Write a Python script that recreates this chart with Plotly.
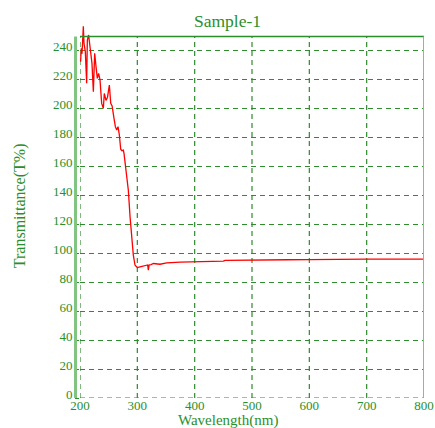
import plotly.graph_objects as go

# Wavelength (nm) and transmittance (T%)
wl_noisy = [201, 202.3, 203.5, 205.8, 207, 209.3, 211.6, 212.8, 215, 217.5,
            220.9, 223.3, 225.6, 228, 230.2, 232.5, 234.9, 237.8, 240.7, 242.4,
            245.3, 248, 251.2, 253.6, 256, 259.3, 261.7, 264, 266.3, 268.6]
t_noisy = [232.5, 241.8, 238, 257, 245, 239.5, 217.6, 247.5, 251, 243,
           231.4, 211.8, 238.3, 229, 221, 224.5, 220, 203.7, 200.3, 210.6,
           205.8, 208, 216.4, 203.7, 202, 193.4, 187.6, 185.3, 187.6, 182]
wl_edge = [271, 273, 275.6, 276.8, 278.5, 281.5, 284.3, 287.3, 290.2, 293, 296, 298, 300]
t_edge = [172, 171, 171.4, 169, 162.2, 155.3, 143.7, 125.3, 109.1, 98.8, 91.8, 90.5, 90.2]
wl_flat = [304.7, 309, 313.4, 318, 319.2, 320.5, 324, 328, 339.6, 351.3, 374.5, 400,
           430, 450, 453, 500, 560, 561, 600, 650, 694, 700, 750, 800]
t_flat = [90.7, 91.2, 91.8, 92, 88.4, 92, 92.3, 93, 92.5, 93.4, 93.9, 94.1,
          94.4, 94.6, 95.1, 95.1, 95.3, 95.6, 95.7, 95.6, 95.7, 96, 96, 96]

wavelength = wl_noisy + wl_edge + wl_flat
transmittance = t_noisy + t_edge + t_flat

x_ticks = [200, 300, 400, 500, 600, 700, 800]
y_ticks = list(range(0, 241, 20))
y_top = 250  # top of the frame

GREEN = "#2a8f2a"
GRID = "#2e8b2e"
LIGHT = "#80c480"
FONT = "Liberation Serif"
DASH = "5px,4px"

fig = go.Figure()
fig.add_trace(go.Scatter(x=wavelength, y=transmittance, mode="lines",
                         line=dict(color="#ff0000", width=1.3), showlegend=False))

shapes = []
# vertical dashed grid lines, stopping at the frame top
for xv in x_ticks[:-1]:
    shapes.append(dict(type="line", xref="x", yref="y", x0=xv, x1=xv, y0=0, y1=y_top,
                       layer="below", line=dict(color=GRID, width=1.2, dash=DASH)))
shapes += [
    dict(type="line", xref="x", yref="y", x0=200, x1=800, y0=0, y1=0,
         layer="below", line=dict(color=GRID, width=1.2, dash=DASH)),
    dict(type="line", xref="x", yref="y", x0=200, x1=800, y0=y_top, y1=y_top,
         line=dict(color=GREEN, width=1.5)),
    dict(type="line", xref="x", yref="y", x0=800, x1=800, y0=0, y1=y_top,
         line=dict(color=LIGHT, width=2)),
    dict(type="line", xref="paper", yref="y", x0=-0.013, x1=-0.013, y0=0, y1=y_top,
         line=dict(color=LIGHT, width=3)),
]

fig.update_layout(
    width=435, height=428,
    margin=dict(l=80, r=11, t=22, b=30, autoexpand=False),
    paper_bgcolor="white", plot_bgcolor="white",
    font=dict(family=FONT, color=GREEN, size=13),
    xaxis=dict(range=[200, 800], tickvals=x_ticks, ticktext=[str(v) for v in x_ticks],
               showgrid=False, zeroline=False, showline=False, ticks="", automargin=False,
               ticklabelstandoff=-2,
               tickfont=dict(family=FONT, color=GREEN, size=13)),
    yaxis=dict(range=[0, 260], tickvals=y_ticks, ticktext=[str(v) for v in y_ticks],
               showgrid=True, gridcolor=GRID, griddash=DASH, gridwidth=1.2,
               zeroline=False, showline=False, ticks="outside", ticklen=4,
               automargin=False, ticklabelshift=-4,
               tickcolor=GREEN, tickfont=dict(family=FONT, color=GREEN, size=13)),
    shapes=shapes,
    annotations=[
        dict(text="Sample-1", xref="paper", yref="paper", x=0.43, y=1.0, yshift=1,
             xanchor="center", yanchor="middle", showarrow=False,
             font=dict(family=FONT, color=GREEN, size=17.5)),
        dict(text="Wavelength(nm)", xref="paper", yref="paper", x=0.43, y=0,
             yshift=-22.5, xanchor="center", yanchor="middle", showarrow=False,
             font=dict(family=FONT, color=GREEN, size=15)),
        dict(text="Transmittance(T%)", xref="paper", yref="paper", x=0, xshift=-60,
             y=0.51, xanchor="center", yanchor="middle", textangle=-90,
             showarrow=False, font=dict(family=FONT, color=GREEN, size=16)),
    ],
)

fig.write_html("out.html")
